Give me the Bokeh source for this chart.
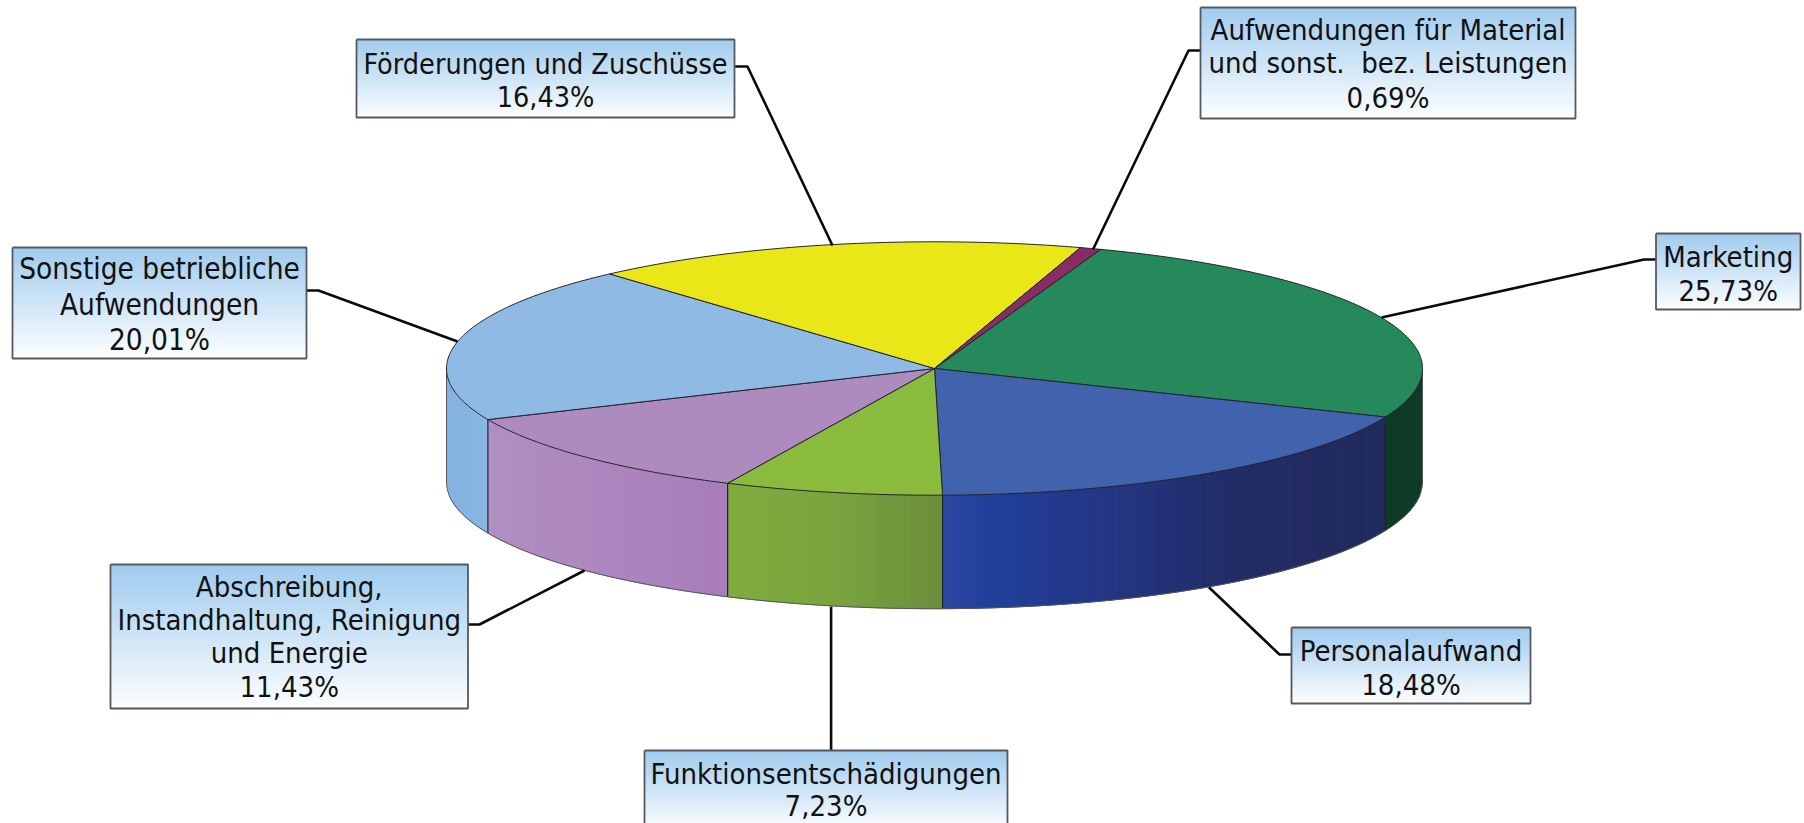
import math
from bokeh.plotting import figure
from bokeh.models import Range1d
from bokeh.core.properties import value
from bokeh.embed import file_html
from bokeh.resources import INLINE

# ---- data ----
categories = ["Marketing", "Personalaufwand", "Funktionsentschädigungen",
              "Abschreibung, Instandhaltung, Reinigung und Energie",
              "Sonstige betriebliche Aufwendungen", "Förderungen und Zuschüsse",
              "Aufwendungen für Material und sonst. bez. Leistungen"]
shares = [25.73, 18.48, 7.23, 11.43, 20.01, 16.43, 0.69]
share_labels = ["25,73%", "18,48%", "7,23%", "11,43%", "20,01%", "16,43%", "0,69%"]
label_lines = [["Marketing"], ["Personalaufwand"], ["Funktionsentschädigungen"],
               ["Abschreibung,", "Instandhaltung, Reinigung", "und Energie"],
               ["Sonstige betriebliche", "Aufwendungen"], ["Förderungen und Zuschüsse"],
               ["Aufwendungen für Material", "und sonst.\u00a0 bez. Leistungen"]]

# ---- colours ----
top_colors = ["#25895C", "#4162AD", "#8ABB3D", "#AE8BBE", "#8FBAE4", "#E9E717", "#8B2C64"]
wall_stops = [
    [(0, "#0F3B26"), (1, "#0F3B26")],
    [(0, "#2D48A3"), (0.12, "#1F3F99"), (0.3, "#23388A"), (0.7, "#222C63"), (1, "#212A5E")],
    [(0, "#80AC3E"), (0.5, "#7AA43E"), (1, "#6B8E3B")],
    [(0, "#B08FC1"), (1, "#A87DBA")],
    [(0, "#82B2DF"), (1, "#8AB7E2")],
    [(0, "#E9E717"), (1, "#E9E717")],
    [(0, "#8B2C64"), (1, "#8B2C64")],
]
box_top, box_bottom = (160, 203, 238), (252, 254, 255)

# ---- layout ----
CX, CY, RX, RY, DEPTH = 934, 368, 488, 126.7, 113.5
START = 70.1
boxes = [(1655.5, 233, 1800, 309), (1291, 627, 1530, 703), (644, 750, 1007, 830),
         (110, 564, 467.5, 708), (12, 247, 306, 358), (356, 39, 734, 117), (1200, 7, 1575, 118)]
line_ys = [[256, 290], [650, 684], [773, 805], [586, 619, 652, 686], [268.5, 304, 339],
           [63.5, 96.5], [29, 62, 97]]
font_px = [29, 29, 29, 29, 29.5, 28.5, 29]
leaders = [[(1655.5, 259), (1643.6, 259), (1381, 317)],
           [(1291, 654), (1279, 654), (1208.4, 586.7)],
           [(830.6, 750), (830.6, 606)],
           [(467.5, 624), (479, 624), (584, 570)],
           [(306, 290), (318, 290), (457, 341)],
           [(734, 66), (747, 66), (832, 245)],
           [(1200, 50), (1188, 50), (1092.5, 249)]]
FONT = "DejaVu Sans Condensed"
EDGE = "#22222c"


def hexrgb(h):
    return tuple(int(h[i:i + 2], 16) for i in (1, 3, 5))


def mix(a, b, f):
    return "#%02x%02x%02x" % tuple(round(a[i] + (b[i] - a[i]) * f) for i in range(3))


def stop_color(stops, f):
    for (f0, c0), (f1, c1) in zip(stops, stops[1:]):
        if f <= f1:
            return mix(hexrgb(c0), hexrgb(c1), (f - f0) / max(f1 - f0, 1e-9))
    return stops[-1][1]


def ex(deg):
    return CX + RX * math.cos(math.radians(deg))


def ey(deg):
    return CY - RY * math.sin(math.radians(deg))


# slice angles, clockwise from START
ends = [START]
for s in shares:
    ends.append(ends[-1] - s * 3.6)

p = figure(width=1804, height=823, x_range=Range1d(0, 1804), y_range=Range1d(823, 0),
           output_backend="svg", toolbar_location=None, min_border=0)
p.axis.visible = False
p.grid.visible = False
p.outline_line_color = None
p.background_fill_color = "#ffffff"
p.border_fill_color = "#ffffff"

# front wall: thin strips with a horizontal gradient per slice (stops run left to right)
for i, s in enumerate(shares):
    a0, a1 = ends[i], ends[i + 1]
    lo, hi = max(a1, -180), min(a0, 0)
    alt_lo, alt_hi = max(a1 + 360, -180), min(a0 + 360, 0)
    if hi <= lo and alt_hi > alt_lo:
        lo, hi = alt_lo, alt_hi
    if hi <= lo:
        continue
    x0, x1 = ex(lo), ex(hi)
    n = max(2, int(abs(x1 - x0) / 3))
    xs, ys, cs = [], [], []
    for k in range(n):
        u0, u1 = k / n, (k + 1) / n
        xa, xb = x0 + (x1 - x0) * u0, x0 + (x1 - x0) * u1
        ang_a = -math.degrees(math.acos(max(-1, min(1, (xa - CX) / RX))))
        ang_b = -math.degrees(math.acos(max(-1, min(1, (xb - CX) / RX))))
        xs.append([xa, xb, xb, xa])
        ys.append([ey(ang_a), ey(ang_b), ey(ang_b) + DEPTH, ey(ang_a) + DEPTH])
        cs.append(stop_color(wall_stops[i], (u0 + u1) / 2))
    p.patches(xs, ys, fill_color=cs, line_color=cs, line_width=1)

# outlines of the wall
for a in ends:
    b = ((a + 180) % 360) - 180
    if -180 < b < 0:
        p.line([ex(b), ex(b)], [ey(b), ey(b) + DEPTH], line_color=EDGE, line_width=1.2)
arc = [-180 + k * 1.0 for k in range(181)]
p.line([ex(a) for a in arc], [ey(a) + DEPTH for a in arc], line_color="#555560", line_width=1)
p.line([CX - RX, CX - RX], [CY, CY + DEPTH], line_color="#555560", line_width=1)
p.line([CX + RX, CX + RX], [CY, CY + DEPTH], line_color="#555560", line_width=1)

# top surface
for i, s in enumerate(shares):
    steps = max(2, int(abs(ends[i] - ends[i + 1]) * 2))
    angs = [ends[i] + (ends[i + 1] - ends[i]) * k / steps for k in range(steps + 1)]
    p.patch([CX] + [ex(a) for a in angs], [CY] + [ey(a) for a in angs],
            fill_color=top_colors[i], line_color=EDGE, line_width=1.0)

# leaders
for pts in leaders:
    p.line([q[0] for q in pts], [q[1] for q in pts], line_color="#0a0a0a", line_width=2.6)

# label boxes with a vertical gradient
for i, (l, t, r, b) in enumerate(boxes):
    h = b - t
    rows = int(h / 2)
    lefts = [l] * rows
    rights = [r] * rows
    tops = [t + h * k / rows for k in range(rows)]
    bottoms = [t + h * (k + 1) / rows + 0.5 for k in range(rows)]
    cols = [mix(box_top, box_bottom, (k + 0.5) / rows) for k in range(rows)]
    p.quad(left=lefts, right=rights, top=tops, bottom=bottoms, fill_color=cols, line_color=None)
    p.line([l, r, r, l, l], [t, t, b, b, t], line_color="#55585c", line_width=1.8)
    txt = label_lines[i] + [share_labels[i]]
    p.text([(l + r) / 2] * len(txt), line_ys[i], text=txt, text_align="center",
           text_baseline="middle", text_font=value(FONT), text_font_size=f"{font_px[i]}px",
           text_color="#111111")

open("out.html", "w").write(file_html(p, INLINE))
